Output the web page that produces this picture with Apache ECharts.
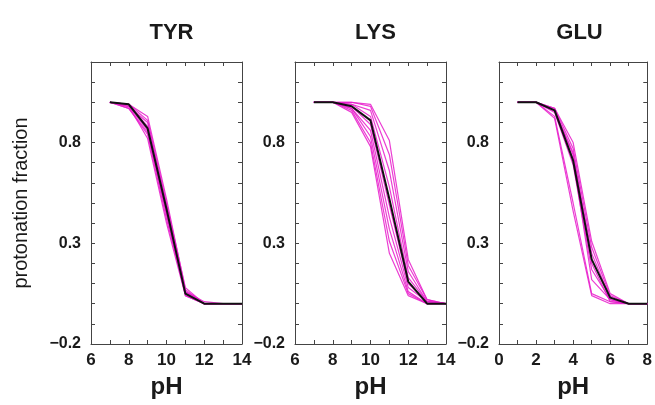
<!DOCTYPE html>
<html>
<head>
<meta charset="utf-8">
<script src="https://cdn.jsdelivr.net/npm/echarts@6/dist/echarts.min.js"></script>
<style>
html,body{margin:0;padding:0;background:#fff;}
#c{width:655px;height:405px;}
</style>
</head>
<body>
<div id="c"></div>
<script>
// ---------- DATA ----------
const panelTitles = ["TYR", "LYS", "GLU"];
const xLabel = "pH";
const yLabel = "protonation fraction";
const yTickValues = [-0.2, 0.3, 0.8];
const yTickLabels = ["\u22120.2", "0.3", "0.8"];

const phTyr = [7, 8, 9, 10, 11, 12, 13, 14];
const tyrRef = [1.0, 0.99, 0.87, 0.47, 0.05, 0.0, 0.0, 0.0];
const tyrRuns = [
  [1.0, 0.99, 0.93, 0.52, 0.07, 0.0, 0.0, 0.0],
  [1.0, 0.98, 0.90, 0.49, 0.06, 0.0, 0.0, 0.0],
  [1.0, 0.97, 0.85, 0.44, 0.05, 0.0, 0.0, 0.0],
  [1.0, 0.98, 0.82, 0.40, 0.04, 0.0, 0.0, 0.0],
  [1.0, 0.99, 0.88, 0.46, 0.06, 0.01, 0.0, 0.0],
  [1.0, 0.97, 0.84, 0.42, 0.05, 0.0, 0.0, 0.0],
  [1.0, 0.99, 0.91, 0.50, 0.08, 0.0, 0.0, 0.0],
  [1.0, 0.98, 0.86, 0.45, 0.04, 0.0, 0.0, 0.0]
];

const phLys = [7, 8, 9, 10, 11, 12, 13, 14];
const lysRef = [1.0, 1.0, 0.98, 0.91, 0.52, 0.11, 0.0, 0.0];
const lysRuns = [
  [1.0, 1.0, 0.95, 0.78, 0.25, 0.04, 0.0, 0.0],
  [1.0, 1.0, 0.96, 0.80, 0.31, 0.05, 0.0, 0.0],
  [1.0, 1.0, 0.97, 0.83, 0.37, 0.06, 0.0, 0.0],
  [1.0, 1.0, 0.97, 0.86, 0.43, 0.08, 0.01, 0.0],
  [1.0, 1.0, 0.98, 0.89, 0.49, 0.10, 0.01, 0.0],
  [1.0, 1.0, 0.99, 0.93, 0.58, 0.13, 0.01, 0.0],
  [1.0, 1.0, 0.99, 0.96, 0.66, 0.16, 0.01, 0.0],
  [1.0, 1.0, 1.0, 0.98, 0.74, 0.19, 0.02, 0.0],
  [1.0, 1.0, 1.0, 0.99, 0.81, 0.22, 0.02, 0.0]
];

const phGlu = [1, 2, 3, 4, 5, 6, 7, 8];
const gluRef = [1.0, 1.0, 0.96, 0.71, 0.22, 0.03, 0.0, 0.0];
const gluRuns = [
  [1.0, 1.0, 0.93, 0.50, 0.05, 0.01, 0.0, 0.0],
  [1.0, 1.0, 0.92, 0.46, 0.04, 0.0, 0.0, 0.0],
  [1.0, 1.0, 0.96, 0.74, 0.25, 0.03, 0.0, 0.0],
  [1.0, 1.0, 0.97, 0.77, 0.28, 0.04, 0.0, 0.0],
  [1.0, 1.0, 0.97, 0.80, 0.31, 0.05, 0.0, 0.0],
  [1.0, 1.0, 0.95, 0.69, 0.17, 0.02, 0.0, 0.0],
  [1.0, 1.0, 0.96, 0.72, 0.12, 0.02, 0.0, 0.0],
  [1.0, 1.0, 0.96, 0.75, 0.20, 0.01, 0.0, 0.0]
];

const xRanges = [[6, 14], [6, 14], [0, 8]];

// ---------- CHART ----------
const FONT = "'Liberation Sans', Arial, Helvetica, sans-serif";
const TXT = "#1a1a1a";
const FRAME = "#444";
const MAGENTA = "#e81ccb";

const gridLefts = [91, 295, 499];
const gridW = 151, gridTop = 62, gridH = 282;

const panels = [
  {x: phTyr, ref: tyrRef, runs: tyrRuns},
  {x: phLys, ref: lysRef, runs: lysRuns},
  {x: phGlu, ref: gluRef, runs: gluRuns}
];

const grids = [], xAxes = [], yAxes = [], series = [], titles = [];

function yFmt(v) {
  const r = Math.round(v * 10);
  for (let k = 0; k < yTickValues.length; k++) {
    if (Math.round(yTickValues[k] * 10) === r) return yTickLabels[k];
  }
  return "";
}

panels.forEach((p, i) => {
  grids.push({left: gridLefts[i], top: gridTop, width: gridW, height: gridH, show: false});
  titles.push({
    text: panelTitles[i], left: gridLefts[i] + gridW / 2, top: 17, textAlign: "center",
    textStyle: {fontFamily: FONT, fontSize: 22, fontWeight: "bold", color: TXT}
  });
  const xr = xRanges[i];
  const baseX = {
    type: "value", gridIndex: i, min: xr[0], max: xr[1], interval: 1,
    axisLine: {show: true, onZero: false, lineStyle: {color: FRAME, width: 1}},
    axisTick: {show: true, inside: true, length: 4, lineStyle: {color: FRAME}},
    splitLine: {show: false}
  };
  xAxes.push(Object.assign({}, baseX, {
    position: "bottom",
    name: xLabel, nameLocation: "middle", nameGap: 31,
    nameTextStyle: {fontFamily: FONT, fontSize: 24, fontWeight: "bold", color: TXT},
    axisLabel: {
      show: true, margin: 8, fontFamily: FONT, fontSize: 17, fontWeight: "bold", color: TXT,
      formatter: v => (Math.round(v) % 2 === 0 ? String(Math.round(v)) : "")
    }
  }));
  xAxes.push(Object.assign({}, baseX, {position: "top", axisLabel: {show: false}}));
  const baseY = {
    type: "value", gridIndex: i, min: -0.2, max: 1.2, interval: 0.1,
    axisLine: {show: true, onZero: false, lineStyle: {color: FRAME, width: 1}},
    axisTick: {show: true, inside: true, length: 4, lineStyle: {color: FRAME}},
    splitLine: {show: false}
  };
  const yLeft = Object.assign({}, baseY, {
    position: "left",
    axisLabel: {show: true, margin: 10, fontFamily: FONT, fontSize: 16, fontWeight: "bold", color: TXT, formatter: yFmt}
  });
  if (i === 0) {
    yLeft.name = yLabel;
    yLeft.nameLocation = "middle";
    yLeft.nameRotate = 90;
    yLeft.nameGap = 60;
    yLeft.nameTextStyle = {fontFamily: FONT, fontSize: 20, color: TXT};
  }
  yAxes.push(yLeft);
  yAxes.push(Object.assign({}, baseY, {position: "right", axisLabel: {show: false}}));

  p.runs.forEach(run => {
    series.push({
      type: "line", xAxisIndex: 2 * i, yAxisIndex: 2 * i,
      data: p.x.map((x, k) => [x, run[k]]),
      symbol: "none", silent: true, animation: false,
      lineStyle: {color: MAGENTA, width: 1.2, opacity: 0.85}
    });
  });
  series.push({
    type: "line", xAxisIndex: 2 * i, yAxisIndex: 2 * i,
    data: p.x.map((x, k) => [x, p.ref[k]]),
    symbol: "none", silent: true, animation: false,
    lineStyle: {color: "#111", width: 2}
  });
});

const chart = echarts.init(document.getElementById("c"), null, {renderer: "canvas"});
chart.setOption({
  backgroundColor: "#fff",
  animation: false,
  title: titles,
  grid: grids,
  xAxis: xAxes,
  yAxis: yAxes,
  series: series
});
</script>
</body>
</html>
